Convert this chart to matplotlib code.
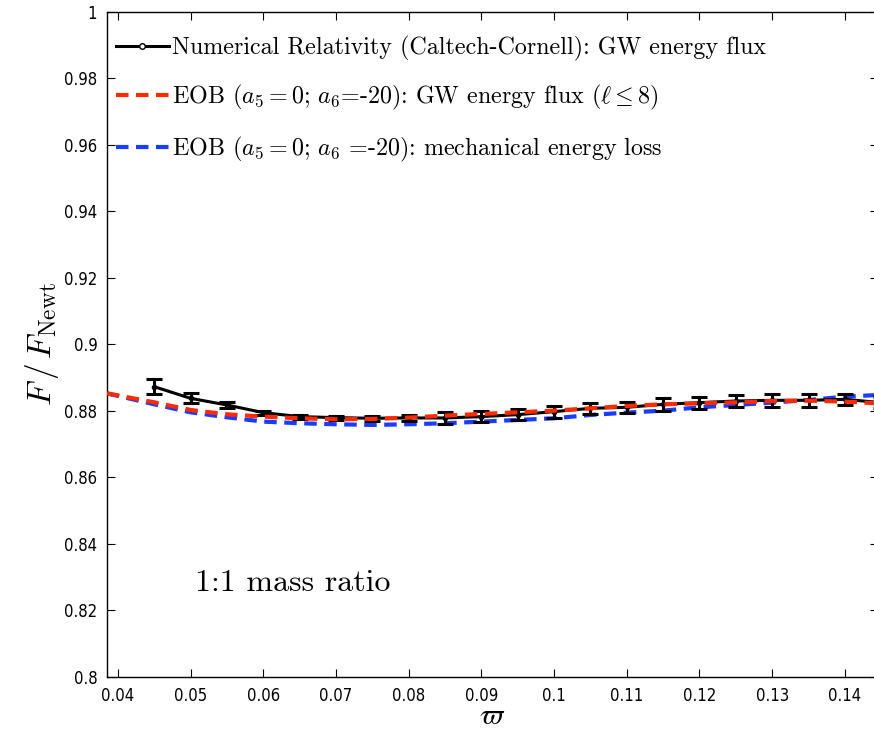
import numpy as np
import matplotlib
matplotlib.use('Agg')
import matplotlib.pyplot as plt
from matplotlib.lines import Line2D

plt.rcParams['mathtext.fontset'] = 'cm'
plt.rcParams['axes.linewidth'] = 1.0
plt.rcParams['xtick.direction'] = 'in'
plt.rcParams['ytick.direction'] = 'in'
plt.rcParams['xtick.major.size'] = 6
plt.rcParams['ytick.major.size'] = 6

# numerical relativity points (with error bars)
nr_w = [0.045, 0.05, 0.055, 0.06, 0.065, 0.07, 0.075, 0.08, 0.085, 0.09, 0.095,
        0.1, 0.105, 0.11, 0.115, 0.12, 0.125, 0.13, 0.135, 0.14, 0.145]
nr_F = [0.8873, 0.8838, 0.8818, 0.8795, 0.8783, 0.8780, 0.8778, 0.8779, 0.8779, 0.8783, 0.8789,
        0.8798, 0.8808, 0.8811, 0.8820, 0.8825, 0.8830, 0.8832, 0.8832, 0.8835, 0.8825]
nr_err = [0.0022, 0.0015, 0.0008, 0.0006, 0.0006, 0.0006, 0.0007, 0.0008, 0.0019, 0.0017, 0.0017,
          0.0018, 0.0017, 0.0017, 0.0019, 0.0018, 0.0018, 0.0019, 0.0019, 0.0017, 0.0017]

# EOB curves
eob_w = [0.0385, 0.045, 0.05, 0.055, 0.06, 0.065, 0.07, 0.075, 0.08, 0.085, 0.09, 0.095,
         0.1, 0.105, 0.11, 0.115, 0.12, 0.125, 0.13, 0.135, 0.14, 0.1445]
eob_gw = [0.8853, 0.8826, 0.8803, 0.8790, 0.8783, 0.8778, 0.8775, 0.8776, 0.8780, 0.8786, 0.8791, 0.8796,
          0.8801, 0.8808, 0.8815, 0.8820, 0.8823, 0.8826, 0.8830, 0.8831, 0.8828, 0.8823]
eob_mech = [0.8853, 0.8820, 0.8796, 0.8781, 0.8768, 0.8763, 0.8760, 0.8758, 0.8760, 0.8763, 0.8768, 0.8773,
            0.8778, 0.8788, 0.8795, 0.8801, 0.8811, 0.8818, 0.8825, 0.8833, 0.8843, 0.8848]

red = '#ff2a00'
blue = '#1a3cff'

fig = plt.figure(figsize=(8.74, 7.34), dpi=100)
ax = fig.add_axes([0.1224, 0.0777, 0.8817, 0.906])

ax.errorbar(nr_w, nr_F, yerr=nr_err, color='black', lw=2.2, marker='o', ms=3,
            mfc='black', mec='black', capsize=6, capthick=2.2, elinewidth=2.2, zorder=2)
ax.plot(eob_w, eob_gw, color=red, lw=3, ls=(0, (3, 1.8)), zorder=3)
ax.plot(eob_w, eob_mech, color=blue, lw=3, ls=(0, (3, 1.8)), zorder=1)

ax.set_xlim(0.0385, 0.1445)
ax.set_ylim(0.8, 1.0)
ax.set_xticks([0.04, 0.05, 0.06, 0.07, 0.08, 0.09, 0.1, 0.11, 0.12, 0.13, 0.14])
ax.set_xticklabels(['0.04', '0.05', '0.06', '0.07', '0.08', '0.09', '0.1', '0.11', '0.12', '0.13', '0.14'])
ax.set_yticks([0.8, 0.82, 0.84, 0.86, 0.88, 0.9, 0.92, 0.94, 0.96, 0.98, 1.0])
ax.set_yticklabels(['0.8', '0.82', '0.84', '0.86', '0.88', '0.9', '0.92', '0.94', '0.96', '0.98', '1'])
ax.tick_params(top=True, right=True, labelsize=12, pad=7)
for lab in ax.get_xticklabels() + ax.get_yticklabels():
    lab.set_family(['Liberation Sans Narrow', 'DejaVu Sans'])
    lab.set_fontstretch('condensed')

ax.set_xlabel(r'$\varpi$', fontsize=21, labelpad=-2)
ax.set_ylabel(r'$F\,/\,F_{\rm Newt}$', fontsize=24, labelpad=2)

ax.text(0.0506, 0.8283, '1:1 mass ratio', fontsize=23, family='cmr10', va='center')

handles = [
    Line2D([], [], color='black', lw=2.2, marker='o', ms=4, mfc='white', mec='black'),
    Line2D([], [], color=red, lw=3, ls=(0, (3, 1.8))),
    Line2D([], [], color=blue, lw=3, ls=(0, (3, 1.8))),
]
labels = [
    'Numerical Relativity (Caltech-Cornell): GW energy flux',
    r'EOB ($a_5=0$; $a_6$=-20): GW energy flux ($\ell\leq 8$)',
    r'EOB ($a_5=0$; $a_6$ =-20): mechanical energy loss',
]
leg = ax.legend(handles, labels, loc='upper left', bbox_to_anchor=(-0.004, 0.982),
                frameon=False, handlelength=2.2, handletextpad=0.12, borderaxespad=0.2,
                borderpad=0.3, labelspacing=0.92, prop={'family': 'cmr10', 'size': 17.3})

fig.savefig('out.png', dpi=100)
